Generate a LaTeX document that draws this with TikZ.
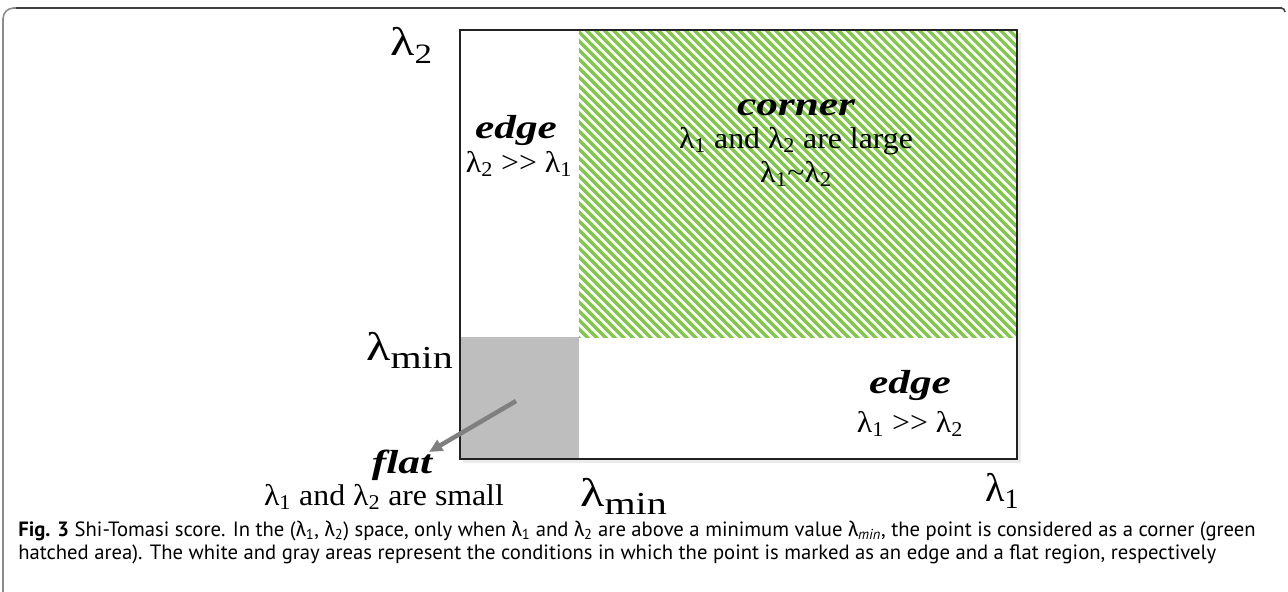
\documentclass[tikz,border=0pt]{standalone}
\usepackage{fontspec}
\setmainfont{Liberation Serif}
\newfontfamily\capfont{PT Sans}
\newfontfamily\capgreek{Fira Sans}
\newfontfamily\regfont[FakeStretch=1.06]{Liberation Serif}
\newfontfamily\titfont[FakeStretch=1.3]{Liberation Serif}
\newfontfamily\axfont[FakeStretch=1.25]{Liberation Serif}
\usetikzlibrary{arrows.meta}
\definecolor{hatchgreen}{RGB}{128,200,72}
\definecolor{flatgray}{RGB}{190,190,190}
\definecolor{arrowgray}{RGB}{128,128,128}
\definecolor{boxline}{RGB}{34,34,34}
\newcommand{\cl}{{\capgreek λ}}
\newcommand{\lowmin}{\raisebox{-6pt}{\fontsize{24}{28}\selectfont min}}
\tikzset{
  framel/.style={draw=black!45, line width=1.2pt},
  framet/.style={draw=black!75, line width=1.2pt},
  hatchline/.style={draw=hatchgreen, line width=2.4pt},
  axislab/.style={font=\axfont\fontsize{30}{34}\selectfont, inner sep=0pt, anchor=base west},
  axisplain/.style={font=\fontsize{30}{34}\selectfont, inner sep=0pt, anchor=base west},
  regtext/.style={font=\regfont\fontsize{22.5}{26}\selectfont, inner sep=0pt, anchor=base},
  regtitle/.style={font=\titfont\fontsize{25}{29}\selectfont\bfseries\itshape, inner sep=0pt, anchor=base},
  captext/.style={font=\capfont\fontsize{15.5}{19}\selectfont, inner sep=0pt, anchor=base west},
  flatarrow/.style={draw=arrowgray, line width=3.4pt, -{Triangle[length=10pt,width=9pt]}}
}
\begin{document}
\begin{tikzpicture}[x=0.75pt,y=-0.75pt]
\useasboundingbox (0,0) rectangle (1288,592);
% outer frame
\draw[framel, rounded corners=8pt] (3,592) -- (3,8) -- (40,8);
\draw[framet] (16,8) -- (1282,8);
\draw[framet, rounded corners=3pt] (1278,8) -- (1285,8) -- (1285,12);
% shadow of the box
\fill[black!8] (463,33) rectangle (1021,463);
\fill[white] (460,30) rectangle (1017,459);
% hatched corner area
\begin{scope}
  \clip (579,30) rectangle (1017,337);
  \foreach \c in {261,270,...,1026} {
    \draw[hatchline] (\c,20) -- ++(330,330);
  }
\end{scope}
% flat area
\fill[flatgray] (460,337) rectangle (579,459);
% main box
\draw[draw=boxline, line width=1.9pt] (460,30) rectangle (1017,459);
% axis labels
\node[axislab] (l2) at (390,56) {λ\textsubscript{2}};
\node[axislab] (lminy) at (366,360) {λ\lowmin};
\node[axislab] (lminx) at (580,506) {λ\lowmin};
\node[axisplain] (l1) at (985,501) {λ\textsubscript{1}};
% region texts
\node[regtitle] (edgeL) at (516,138) {edge};
\node[regtext] (edgeLt) at (519,172) {λ\textsubscript{2} >> λ\textsubscript{1}};
\node[regtitle] (corner) at (796,115) {corner};
\node[regtext] (cornert) at (796,148) {λ\textsubscript{1} and λ\textsubscript{2} are large};
\node[regtext] (cornert2) at (796,182) {λ\textsubscript{1}\char`\~λ\textsubscript{2}};
\node[regtitle] (edgeB) at (910,393) {edge};
\node[regtext] (edgeBt) at (910,432) {λ\textsubscript{1} >> λ\textsubscript{2}};
\node[regtitle] (flat) at (402,473) {flat};
\node[regtext] (flatt) at (384,505) {λ\textsubscript{1} and λ\textsubscript{2} are small};
% arrow
\coordinate (ast) at (516,401);
\coordinate (aend) at (429,452);
\draw[flatarrow] (ast) -- (aend);
% caption
\node[captext] (cap1) at (18,536) {\textbf{Fig. 3} Shi-Tomasi score. In the (\cl\textsubscript{1}, \cl\textsubscript{2}) space, only when \cl\textsubscript{1} and \cl\textsubscript{2} are above a minimum value \cl\textsubscript{\itshape min}, the point is considered as a corner (green};
\node[captext] (cap2) at (18,559) {hatched area). The white and gray areas represent the conditions in which the point is marked as an edge and a flat region, respectively};
\end{tikzpicture}
\end{document}
